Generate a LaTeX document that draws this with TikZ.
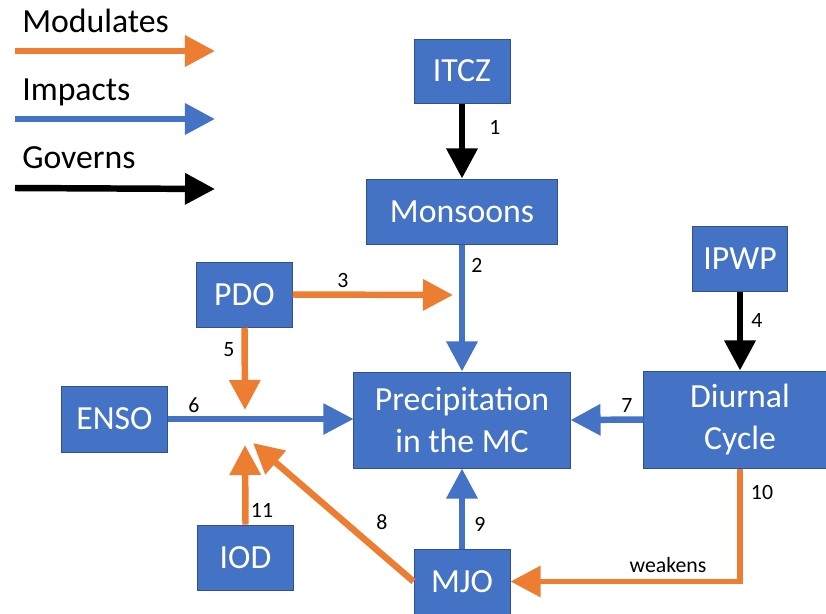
\documentclass[tikz,border=0pt]{standalone}
\usepackage{fontspec}
\setmainfont{Carlito}
\usetikzlibrary{arrows.meta}
\definecolor{boxblue}{HTML}{4472C4}
\definecolor{boxedge}{HTML}{2F528F}
\definecolor{modorange}{HTML}{ED7D31}

\begin{document}
\begin{tikzpicture}[x=0.025cm,y=-0.025cm,
	box/.style={draw=boxedge,line width=0.7pt,fill=boxblue,text=white,inner sep=0pt,align=center,font=\fontsize{24}{30}\selectfont},
	num/.style={inner sep=0pt,font=\fontsize{15.5}{18}\selectfont},
	legtext/.style={anchor=base west,inner sep=0pt,font=\fontsize{24}{29}\selectfont},
	link/.style={line width=4.6pt,-{Triangle[length=0.75cm,width=0.75cm]}},
	modulates/.style={link,modorange},
	impacts/.style={link,boxblue},
	governs/.style={link,black}]
	
	\useasboundingbox (0,0) rectangle (826,613);
	
	\node[legtext] (modtext) at (22,32) {Modulates};
	\coordinate (m0) at (15,51);
	\coordinate (m1) at (215,51);
	\draw[modulates] (m0) -- (m1);
	\node[legtext] (imptext) at (22,100) {Impacts};
	\coordinate (i0) at (15,119);
	\coordinate (i1) at (215,119);
	\draw[impacts] (i0) -- (i1);
	\node[legtext] (govtext) at (22,168) {Governs};
	\coordinate (g0) at (15,188);
	\coordinate (g1) at (215,189);
	\draw[governs] (g0) -- (g1);
	
	\node[box,minimum width=2.4cm,minimum height=1.6cm] (itcz) at (462,71) {ITCZ};
	\node[box,minimum width=4.75cm,minimum height=1.625cm] (mons) at (462,211.5) {Monsoons};
	\node[box,minimum width=2.375cm,minimum height=1.625cm] (ipwp) at (740,258.5) {IPWP};
	\node[box,minimum width=2.375cm,minimum height=1.625cm] (pdo) at (244.5,294.5) {PDO};
	\node[box,minimum width=5.4cm,minimum height=2.4cm] (prec) at (462,420) {Precipitation\\in the MC};
	\node[box,minimum width=4.8cm,minimum height=2.425cm] (diur) at (740,419.5) {Diurnal\\Cycle};
	\node[box,minimum width=2.625cm,minimum height=1.65cm] (enso) at (114.5,419) {ENSO};
	\node[box,minimum width=2.375cm,minimum height=1.625cm] (iod) at (245.5,557.5) {IOD};
	\node[box,minimum width=2.4cm,minimum height=1.625cm] (mjo) at (462,581.5) {MJO};
	
	\draw[governs] (itcz.south) -- (mons.north);
	\draw[impacts] (mons.south) -- (prec.north);
	\coordinate (t3) at (453,295);
	\draw[modulates] (pdo.east) -- (t3);
	\draw[governs] (ipwp.south) -- (ipwp.south |- diur.north);
	\coordinate (t5) at (245,410);
	\draw[modulates] (pdo.south) -- (t5);
	\draw[impacts,line width=3.8pt] (enso.east) -- (enso.east -| prec.west);
	\draw[impacts] (diur.west) -- (prec.east);
	\coordinate (t8) at (253,443);
	\draw[modulates] (mjo.west) -- (t8);
	\draw[impacts] (mjo.north) -- (prec.south);
	\draw[modulates,line width=4.2pt,line join=miter] (ipwp.south |- diur.south) |- (mjo.east);
	\coordinate (t11) at (245,445);
	\draw[modulates] (iod.north) -- (t11);
	
	\node[num] (n1) at (495,127) {1};
	\node[num] (n2) at (477,265) {2};
	\node[num] (n3) at (343,280) {3};
	\node[num] (n4) at (757,320) {4};
	\node[num] (n5) at (229,350) {5};
	\node[num] (n6) at (194,405) {6};
	\node[num] (n7) at (627,405) {7};
	\node[num] (n8) at (382,522) {8};
	\node[num] (n9) at (480,524) {9};
	\node[num] (n10) at (762,492) {10};
	\node[num] (n11) at (262,510) {11};
	\node[num] (weak) at (668,565) {weakens};
	
\end{tikzpicture}
\end{document}
